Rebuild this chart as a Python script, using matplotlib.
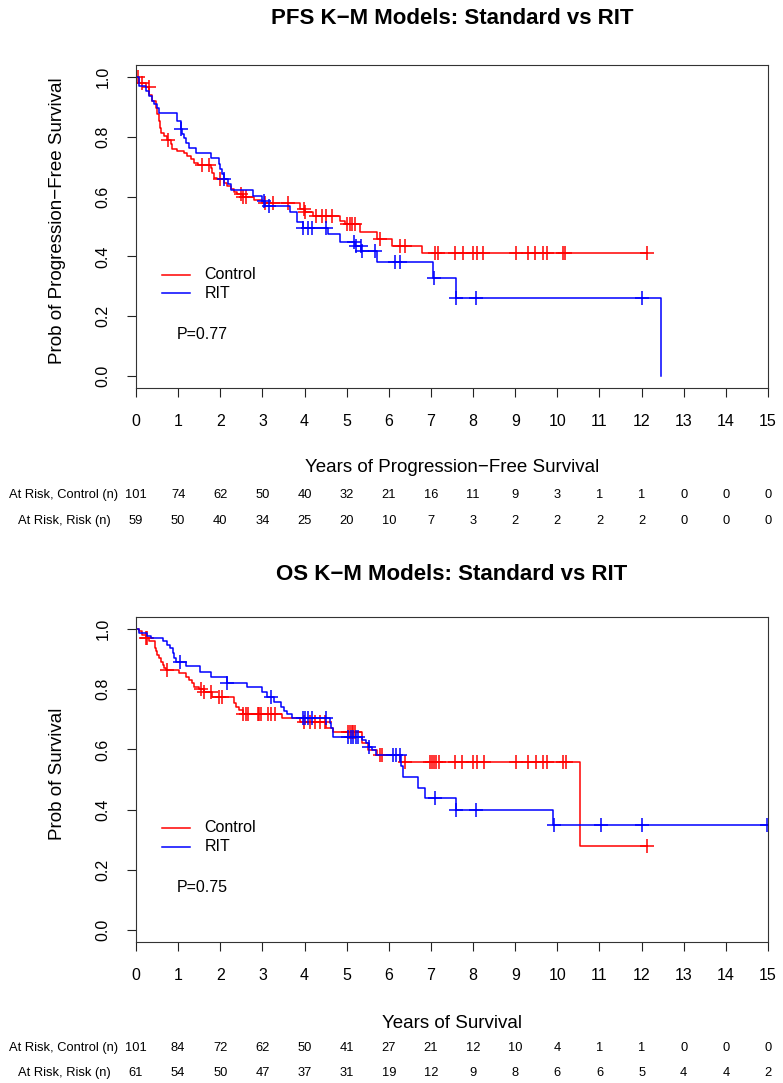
import numpy as np
import matplotlib
matplotlib.use('Agg')
import matplotlib.pyplot as plt
from matplotlib.transforms import blended_transform_factory

plt.rcParams['font.family'] = ['Liberation Sans', 'DejaVu Sans']

# ---------------- data ----------------
# PFS, Control
pfs_ctrl_t = [0, 0.08, 0.23, 0.31, 0.39, 0.47, 0.51, 0.55, 0.57, 0.59, 0.66, 0.74, 0.82, 0.86,
              0.98, 1.14, 1.22, 1.30, 1.38, 1.46, 1.77, 1.81, 1.85, 1.93, 2.09, 2.17, 2.25,
              2.33, 2.40, 2.55, 2.80, 3.00, 3.90, 4.00, 4.20, 4.85, 4.95, 5.32, 5.71, 6.07, 6.78]
pfs_ctrl_s = [1.0, 0.98, 0.965, 0.94, 0.92, 0.897, 0.875, 0.853, 0.83, 0.814, 0.803, 0.79, 0.775,
              0.758, 0.752, 0.747, 0.736, 0.725, 0.713, 0.706, 0.697, 0.68, 0.663, 0.66, 0.647,
              0.635, 0.624, 0.616, 0.607, 0.598, 0.59, 0.578, 0.558, 0.547, 0.536, 0.519, 0.508,
              0.48, 0.458, 0.436, 0.413]
pfs_ctrl_cens = [0.05, 0.15, 0.30, 0.76, 1.57, 1.73, 2.00, 2.50, 2.55, 2.60, 3.05, 3.25, 3.60,
                 3.98, 4.02, 4.27, 4.42, 4.50, 4.66, 5.00, 5.07, 5.13, 5.20, 5.79, 6.26, 6.38,
                 7.10, 7.17, 7.57, 7.76, 7.99, 8.09, 8.24, 9.02, 9.30, 9.47, 9.65, 9.75, 10.13,
                 10.18, 12.12]
pfs_ctrl_end = 12.12

# PFS, RIT
pfs_rit_t = [0, 0.07, 0.24, 0.31, 0.39, 0.43, 0.51, 0.55, 0.97, 1.06, 1.10, 1.14, 1.18, 1.26,
             1.42, 1.77, 1.97, 2.00, 2.03, 2.10, 2.18, 2.26, 2.78, 3.00, 3.05, 3.66, 3.81, 3.97,
             4.56, 4.85, 5.20, 5.35, 5.71, 7.06, 7.59, 12.46]
pfs_rit_s = [1.0, 0.97, 0.953, 0.936, 0.92, 0.909, 0.897, 0.88, 0.853, 0.825, 0.808, 0.797, 0.78,
             0.764, 0.747, 0.728, 0.708, 0.691, 0.675, 0.658, 0.641, 0.623, 0.603, 0.586, 0.57,
             0.547, 0.514, 0.494, 0.475, 0.449, 0.436, 0.419, 0.38, 0.328, 0.262, 0.0]
pfs_rit_cens = [1.06, 2.10, 3.04, 3.16, 3.97, 4.09, 4.17, 4.52, 5.18, 5.22, 5.33, 5.37, 5.67,
                6.15, 6.27, 7.07, 7.60, 8.08, 12.01]
pfs_rit_end = 12.46

# OS, Control
os_ctrl_t = [0, 0.08, 0.15, 0.23, 0.30, 0.44, 0.47, 0.51, 0.55, 0.59, 0.63, 0.67, 0.71, 1.02,
             1.18, 1.26, 1.34, 1.38, 1.50, 1.62, 1.81, 2.33, 2.37, 2.45, 2.53, 3.47, 3.90, 4.50,
             4.68, 5.36, 5.50, 5.71, 6.27, 10.54]
os_ctrl_s = [1.0, 0.992, 0.981, 0.97, 0.959, 0.937, 0.926, 0.914, 0.903, 0.892, 0.881, 0.87,
             0.864, 0.853, 0.842, 0.831, 0.82, 0.809, 0.80, 0.792, 0.773, 0.753, 0.742, 0.731,
             0.717, 0.703, 0.69, 0.672, 0.659, 0.62, 0.598, 0.581, 0.558, 0.279]
os_ctrl_cens = [0.23, 0.27, 0.74, 1.54, 1.62, 1.77, 1.97, 2.05, 2.55, 2.60, 2.66, 2.90, 2.93,
                2.97, 3.13, 3.20, 3.30, 3.98, 4.13, 4.25, 4.37, 4.49, 5.04, 5.08, 5.12, 5.16,
                5.20, 5.79, 5.83, 6.38, 6.98, 7.03, 7.08, 7.13, 7.18, 7.57, 7.73, 7.99, 8.09,
                8.26, 9.02, 9.30, 9.49, 9.65, 9.75, 10.13, 10.20, 12.12]
os_ctrl_end = 12.12

# OS, RIT
os_rit_t = [0, 0.07, 0.27, 0.35, 0.65, 0.74, 0.81, 0.87, 0.91, 0.95, 1.18, 1.53, 1.79, 2.17,
            2.64, 3.00, 3.10, 3.27, 3.43, 3.51, 3.59, 3.70, 4.60, 4.64, 4.68, 5.36, 5.45, 5.52,
            5.60, 5.70, 6.30, 6.34, 6.70, 6.86, 7.59, 9.89]
os_rit_s = [1.0, 0.987, 0.976, 0.97, 0.959, 0.948, 0.937, 0.92, 0.903, 0.889, 0.876, 0.856,
            0.842, 0.822, 0.807, 0.792, 0.773, 0.759, 0.742, 0.729, 0.718, 0.703, 0.687, 0.67,
            0.642, 0.631, 0.62, 0.609, 0.598, 0.581, 0.545, 0.509, 0.473, 0.437, 0.398, 0.348]
os_rit_cens = [1.05, 2.17, 3.20, 3.96, 4.00, 4.09, 4.17, 4.52, 5.04, 5.10, 5.16, 5.22, 5.28,
               5.52, 6.10, 6.18, 6.26, 7.10, 7.60, 8.08, 9.93, 11.04, 12.01, 14.97]
os_rit_end = 15.0

years = list(range(16))
pfs_risk_ctrl = [101, 74, 62, 50, 40, 32, 21, 16, 11, 9, 3, 1, 1, 0, 0, 0]
pfs_risk_rit = [59, 50, 40, 34, 25, 20, 10, 7, 3, 2, 2, 2, 2, 0, 0, 0]
os_risk_ctrl = [101, 84, 72, 62, 50, 41, 27, 21, 12, 10, 4, 1, 1, 0, 0, 0]
os_risk_rit = [61, 54, 50, 47, 37, 31, 19, 12, 9, 8, 6, 6, 5, 4, 4, 2]

RED = '#FF0000'
BLUE = '#0000FF'

W, H = 783, 1083
fig = plt.figure(figsize=(W / 100, H / 100), dpi=100)


def fx(px):
    return px / W


def fy(py):
    return 1 - py / H


def draw_km(ax, t, s, end, cens, color):
    tt = list(t) + [end]
    ss = list(s) + [s[-1]]
    ax.step(tt, ss, where='post', color=color, lw=1.1)
    tarr = np.array(t)
    cy = [s[np.searchsorted(tarr, c, side='right') - 1] for c in cens]
    ax.plot(cens, cy, ls='none', marker='+', ms=9.5, mew=1.1, color=color)


def panel(top_px, bot_px, title, title_py, xlabel, xlabel_py, ylabel, pval,
          curves, risk_ctrl, risk_rit, risk_py):
    ax = fig.add_axes([fx(136), fy(bot_px), fx(768) - fx(136), fy(top_px) - fy(bot_px)])
    for (t, s, end, cens, color) in curves:
        draw_km(ax, t, s, end, cens, color)
    ax.set_xlim(0, 15)
    ax.set_ylim(-0.04, 1.04)
    ax.set_xticks(years)
    ax.set_yticks([0, 0.2, 0.4, 0.6, 0.8, 1.0])
    ax.set_yticklabels(['0.0', '0.2', '0.4', '0.6', '0.8', '1.0'], rotation=90, va='center')
    ax.tick_params(axis='both', direction='out', length=6.5, width=0.8, labelsize=11.5,
                   colors='#222222', labelcolor='black')
    ax.tick_params(axis='x', pad=12)
    ax.tick_params(axis='y', pad=12)
    for sp in ax.spines.values():
        sp.set_linewidth(0.8)
        sp.set_color('#333333')
    # legend
    ax.plot([0.62, 1.28], [0.339, 0.339], color=RED, lw=1.1)
    ax.plot([0.62, 1.28], [0.277, 0.277], color=BLUE, lw=1.1)
    ax.text(1.62, 0.339, 'Control', fontsize=11.5, va='center', ha='left')
    ax.text(1.62, 0.277, 'RIT', fontsize=11.5, va='center', ha='left')
    ax.text(0.97, 0.14, pval, fontsize=11.5, va='center', ha='left')
    fig.text(fx(58), fy((top_px + bot_px) / 2 - 6), ylabel, fontsize=13.5, rotation=90,
             ha='center', va='center')
    fig.text(fx(452), fy(title_py), title, fontsize=16, fontweight='bold', ha='center', va='center')
    fig.text(fx(452), fy(xlabel_py), xlabel, fontsize=13.5, ha='center', va='center')
    tr = blended_transform_factory(ax.transData, fig.transFigure)
    for x, a, b in zip(years, risk_ctrl, risk_rit):
        ax.text(x, fy(risk_py[0]), str(a), transform=tr, fontsize=9.3, ha='center', va='center',
                clip_on=False)
        ax.text(x, fy(risk_py[1]), str(b), transform=tr, fontsize=9.3, ha='center', va='center',
                clip_on=False)
    fig.text(fx(64), fy(risk_py[0]), 'At Risk, Control (n)', fontsize=9.3, ha='center', va='center')
    fig.text(fx(64), fy(risk_py[1]), 'At Risk, Risk (n)', fontsize=9.3, ha='center', va='center')
    return ax


panel(65, 388, 'PFS K\u2212M Models: Standard vs RIT', 18,
      'Years of Progression\u2212Free Survival', 468,
      'Prob of Progression\u2212Free Survival', 'P=0.77',
      [(pfs_ctrl_t, pfs_ctrl_s, pfs_ctrl_end, pfs_ctrl_cens, RED),
       (pfs_rit_t, pfs_rit_s, pfs_rit_end, pfs_rit_cens, BLUE)],
      pfs_risk_ctrl, pfs_risk_rit, (495, 521))

panel(617, 942, 'OS K\u2212M Models: Standard vs RIT', 575,
      'Years of Survival', 1023,
      'Prob of Survival', 'P=0.75',
      [(os_ctrl_t, os_ctrl_s, os_ctrl_end, os_ctrl_cens, RED),
       (os_rit_t, os_rit_s, os_rit_end, os_rit_cens, BLUE)],
      os_risk_ctrl, os_risk_rit, (1048, 1073))

fig.savefig('out.png', dpi=100)
